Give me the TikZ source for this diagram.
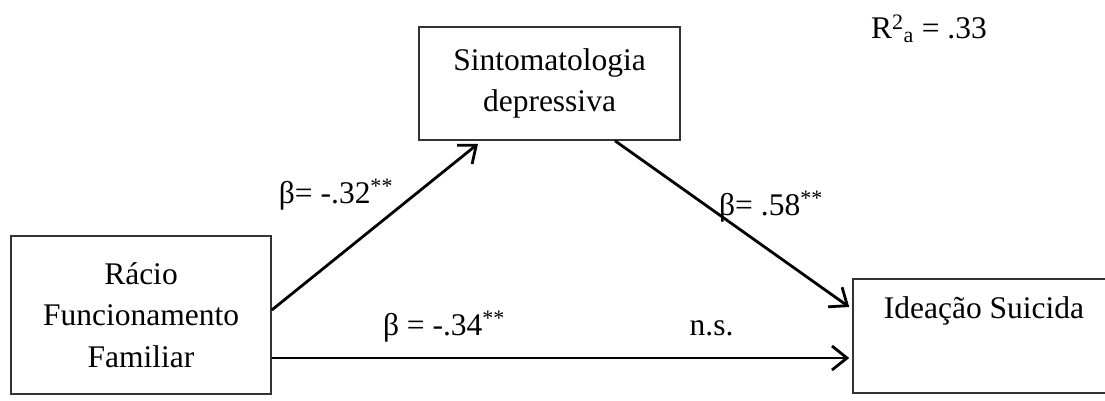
\documentclass[tikz,border=0pt]{standalone}
\usepackage{fontspec}
\setmainfont{Liberation Serif}
\usetikzlibrary{arrows.meta}
\begin{document}
\begin{tikzpicture}[x=1pt,y=-1pt,
  box/.style={draw=black!80,line width=1.6pt,rectangle,inner sep=0pt,align=center,
    font=\fontsize{31.5}{41.5}\selectfont},
  lbl/.style={anchor=base,inner sep=0pt,font=\fontsize{31.5}{38}\selectfont},
  conn/.style={line width=2.8pt,-{Straight Barb[length=15pt,width=24pt,line width=2.8pt]}}]
\useasboundingbox (0,0) rectangle (1105,401);
\fill[white] (0,0) rectangle (1105,401);
% boxes
\node[box,minimum width=260pt,minimum height=158pt] (rf) at (141,315)
  {Rácio\\Funcionamento\\Familiar};
\node[box,minimum width=261pt,minimum height=113pt] (sd) at (549.5,83.5)
  {Sintomatologia\\depressiva};
\node[box,minimum width=262pt,minimum height=114pt] (is) at (984,336) {};
\node[lbl] (istxt) at (984,318) {Ideação Suicida};
% connectors
\draw[conn] ([yshift=5pt]rf.east) -- ([xshift=-71.5pt,yshift=-3pt]sd.south);
\draw[conn] ([xshift=65.5pt]sd.south) -- ([xshift=-3pt,yshift=29pt]is.west);
\draw[conn] ([yshift=-43pt]rf.east) -- ([xshift=-3pt,yshift=-22pt]is.west);
% labels
\node[lbl] (b1) at (336,203) {β= -.32\textsuperscript{**}};
\node[lbl] (b2) at (771,215) {β= .58\textsuperscript{**}};
\node[lbl] (b3) at (444,335) {β = -.34\textsuperscript{**}};
\node[lbl] (ns) at (711.5,335) {n.s.};
\node[lbl] (r2) at (929,39) {R\textsuperscript{2}\textsubscript{a} = .33};
\end{tikzpicture}
\end{document}
